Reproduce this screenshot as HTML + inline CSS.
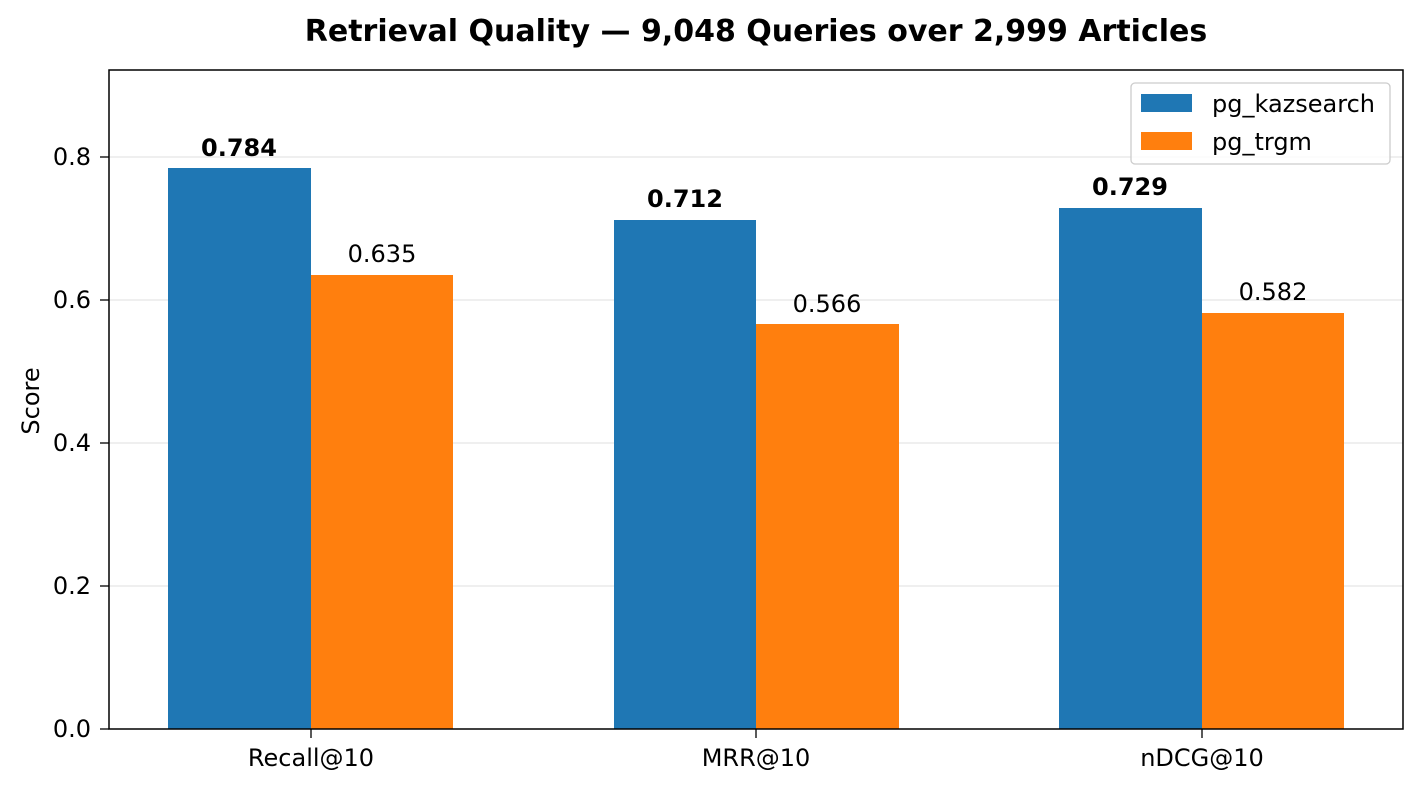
<!DOCTYPE html>
<html><head><meta charset="utf-8"><style>body{margin:0;background:#fff}svg{display:block}text{font-family:"DejaVu Sans","Liberation Sans",sans-serif}</style></head>
<body>
<svg width="1421" height="788" viewBox="0 0 1421 788" xmlns="http://www.w3.org/2000/svg">
<rect width="1421" height="788" fill="#fff"/>
<text x="756" y="41" font-size="30" font-weight="bold" text-anchor="middle">Retrieval Quality — 9,048 Queries over 2,999 Articles</text>
<g stroke="#e5e5e5" stroke-width="1.3">
<line x1="109" x2="1403" y1="586" y2="586"/><line x1="109" x2="1403" y1="443" y2="443"/><line x1="109" x2="1403" y1="300" y2="300"/><line x1="109" x2="1403" y1="157" y2="157"/>
</g>
<g fill="#1f77b4">
<rect x="168" y="168" width="143" height="561"/>
<rect x="614" y="220" width="142" height="509"/>
<rect x="1059" y="208" width="143" height="521"/>
</g>
<g fill="#ff7f0e">
<rect x="311" y="275" width="142" height="454"/>
<rect x="756" y="324" width="143" height="405"/>
<rect x="1202" y="313" width="142" height="416"/>
</g>
<g font-size="24" text-anchor="middle">
<text x="239" y="156" font-weight="bold">0.784</text>
<text x="382" y="262">0.635</text>
<text x="685" y="207" font-weight="bold">0.712</text>
<text x="827" y="312">0.566</text>
<text x="1130" y="195" font-weight="bold">0.729</text>
<text x="1273" y="300">0.582</text>
</g>
<rect x="109" y="70" width="1294" height="659" fill="none" stroke="#000" stroke-width="1.5"/>
<g stroke="#000" stroke-width="1.3">
<line x1="100" x2="109" y1="729" y2="729"/><line x1="100" x2="109" y1="586" y2="586"/><line x1="100" x2="109" y1="443" y2="443"/><line x1="100" x2="109" y1="300" y2="300"/><line x1="100" x2="109" y1="157" y2="157"/>
<line x1="311" x2="311" y1="729" y2="738"/><line x1="756" x2="756" y1="729" y2="738"/><line x1="1202" x2="1202" y1="729" y2="738"/>
</g>
<g font-size="24" text-anchor="end">
<text x="91" y="737">0.0</text><text x="91" y="594">0.2</text><text x="91" y="451">0.4</text><text x="91" y="308">0.6</text><text x="91" y="165">0.8</text>
</g>
<g font-size="24" text-anchor="middle">
<text x="311" y="766">Recall@10</text><text x="756" y="766">MRR@10</text><text x="1202" y="766">nDCG@10</text>
</g>
<text transform="translate(39,401) rotate(-90)" font-size="24" text-anchor="middle">Score</text>
<rect x="1131" y="83" width="259" height="81" rx="4" fill="#fff" fill-opacity="0.8" stroke="#ccc" stroke-width="1.3"/>
<rect x="1141" y="94" width="51" height="18" fill="#1f77b4"/>
<rect x="1141" y="132" width="51" height="18" fill="#ff7f0e"/>
<g font-size="24"><text x="1212" y="112">pg_kazsearch</text><text x="1212" y="150">pg_trgm</text></g>
</svg>
</body></html>
